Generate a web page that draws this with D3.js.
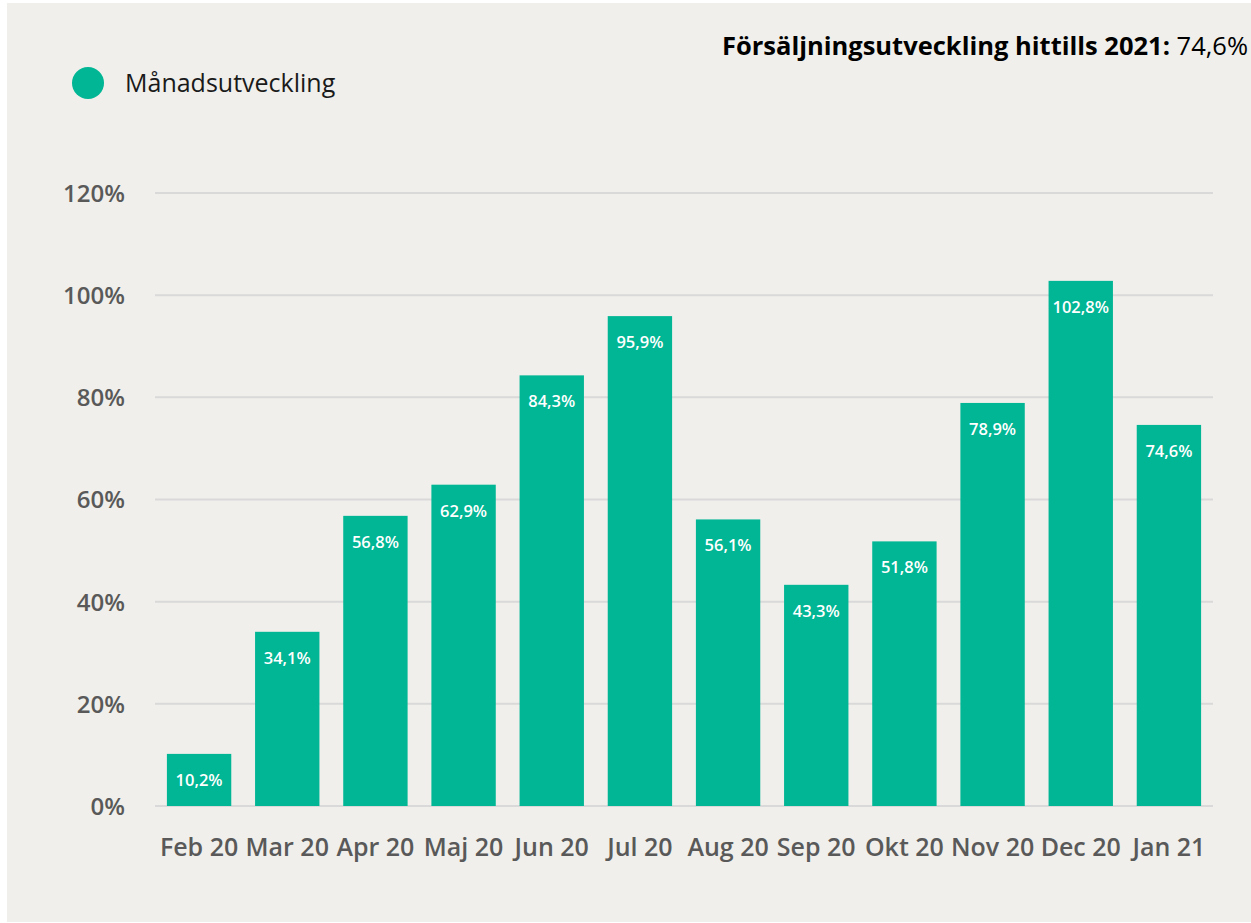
<!DOCTYPE html>
<html><head><meta charset="utf-8">
<script src="https://cdn.jsdelivr.net/npm/d3@7"></script>
<style>
html,body{margin:0;padding:0;background:#fff;}
svg{display:block;}
</style></head>
<body>
<script>
const categories = ["Feb 20","Mar 20","Apr 20","Maj 20","Jun 20","Jul 20","Aug 20","Sep 20","Okt 20","Nov 20","Dec 20","Jan 21"];
const values = [10.2,34.1,56.8,62.9,84.3,95.9,56.1,43.3,51.8,78.9,102.8,74.6];
const yTicks = [0,20,40,60,80,100,120];
const seriesName = "Månadsutveckling";
const titleBold = "Försäljningsutveckling hittills 2021:";
const titleValue = "74,6%";

const W = 1251, H = 923;
const font = "'Open Sans','Noto Sans',sans-serif";
const svg = d3.select("body").append("svg").attr("width", W).attr("height", H);
svg.append("rect").attr("x",7).attr("y",3).attr("width",W-7).attr("height",H-4).attr("fill","#f0efeb");

const x = d3.scaleBand().domain(categories).range([155,1213]).paddingInner(0.27).paddingOuter(0.135);
const y = d3.scaleLinear().domain([0,120]).range([806,193]);

const fmt = v => d3.format(".1f")(v).replace(".", ",") + "%";

// grid
svg.append("g").selectAll("line").data(yTicks).join("line")
  .attr("x1",155).attr("x2",1213).attr("y1",d=>y(d)).attr("y2",d=>y(d))
  .attr("stroke","#d9d9d9").attr("stroke-width",2);

// y labels
const yAxis = d3.axisLeft(y).tickValues(yTicks).tickSize(0).tickPadding(0).tickFormat(d=>d+"%");
const gy = svg.append("g").attr("transform","translate(125,0)").call(yAxis);
gy.select(".domain").remove();
gy.selectAll("text").attr("font-family",font).attr("font-size",24).attr("font-weight",600).attr("fill","#595959").attr("dy","0.35em");

// bars
svg.append("g").selectAll("rect").data(values).join("rect")
  .attr("x",(d,i)=>x(categories[i])).attr("width",x.bandwidth())
  .attr("y",d=>y(d)).attr("height",d=>y(0)-y(d)).attr("fill","#00b694");

svg.append("g").selectAll("text").data(values).join("text")
  .attr("x",(d,i)=>x(categories[i])+x.bandwidth()/2).attr("y",d=>y(d)+32)
  .attr("text-anchor","middle").attr("font-family",font).attr("font-size",16.5).attr("font-weight",600)
  .attr("fill","#fff").text(d=>fmt(d));

// x axis labels
const xAxis = d3.axisBottom(x).tickSize(0).tickPadding(0);
const gx = svg.append("g").attr("transform","translate(0,856)").call(xAxis);
gx.select(".domain").remove();
gx.selectAll("text").attr("font-family",font).attr("font-size",25).attr("font-weight",600).attr("fill","#595959").attr("dy",0);

// legend
svg.append("circle").attr("cx",88).attr("cy",83).attr("r",16).attr("fill","#00b694");
svg.append("text").attr("x",125).attr("y",92).attr("font-family",font).attr("font-size",25).attr("fill","#1a1a1a").text(seriesName);

// title
const t = svg.append("text").attr("x",1248).attr("y",55).attr("text-anchor","end").attr("font-family",font).attr("font-size",25.5).attr("fill","#000");
t.append("tspan").attr("font-weight",700).text(titleBold + " ");
t.append("tspan").attr("font-weight",400).text(titleValue);
</script>
</body></html>
